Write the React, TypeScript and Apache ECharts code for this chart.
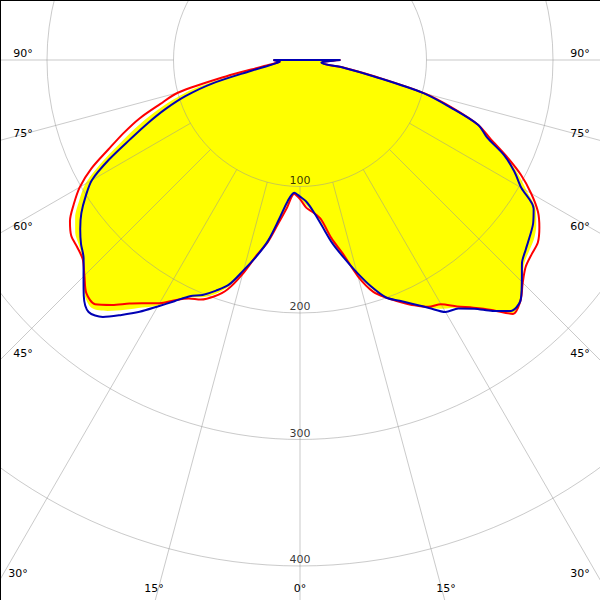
import React, { useEffect, useRef } from "react";
import * as echarts from "echarts";

// Gamma angles (degrees from nadir; negative = left half)
const ANGLES = [
  -90, -87.5, -85, -82.5, -80, -77.5, -75, -72.5, -70, -67.5, -65, -62.5, -60, -57.5, -55, -52.5,
  -50, -47.5, -45, -42.5, -40, -37.5, -35, -32.5, -30, -27.5, -25, -22.5, -20, -17.5, -15, -12.5,
  -10, -7.5, -5, -2.5, 0, 2.5, 5, 7.5, 10, 12.5, 15, 17.5, 20, 22.5, 25, 27.5,
  30, 32.5, 35, 37.5, 40, 42.5, 45, 47.5, 50, 52.5, 55, 57.5, 60, 62.5, 65, 67.5,
  70, 72.5, 75, 77.5, 80, 82.5, 85, 87.5, 90,
];

// Intensity (cd/klm) – red plane
const RED = [
  21, 18, 16, 20, 30, 60, 100, 116, 135, 151, 167, 186, 201, 212, 222, 228,
  230, 233, 241, 250, 252, 244, 235, 228, 222, 214, 208, 205, 199, 190, 175, 158,
  146, 130, 117, 106, 110, 117, 121, 127, 143, 157, 177, 192, 200, 207, 214, 220,
  223, 231, 239, 249, 262, 258, 249, 242, 239, 237, 231, 223, 211, 197, 180, 163,
  150, 127, 102, 62, 36, 18, 18, 22, 32,
];

// Intensity – blue plane
const BLUE = [
  21, 18, 16, 19, 25, 40, 72, 95, 113, 130, 148, 170, 190, 201, 211, 219,
  226, 232, 242, 253, 260, 256, 246, 236, 225, 215, 206, 201, 194, 186, 172, 159,
  145, 127, 112, 105, 108, 112, 120, 132, 147, 160, 174, 188, 200, 206, 213, 221,
  230, 233, 240, 250, 259, 258, 248, 238, 233, 229, 225, 219, 202, 191, 178, 160,
  150, 125, 101, 60, 35, 17, 18, 22, 32,
];

// Intensity – yellow filled curve
const YELLOW = [
  21, 18, 16, 20, 28, 50, 86, 106, 124, 141, 158, 178, 196, 207, 217, 224,
  228, 233, 242, 252, 256, 250, 241, 232, 224, 215, 207, 203, 197, 188, 174, 159,
  146, 129, 115, 106, 109, 115, 121, 130, 145, 159, 175, 190, 200, 207, 214, 221,
  227, 232, 240, 250, 261, 258, 249, 240, 236, 233, 228, 221, 207, 194, 179, 162,
  150, 126, 102, 61, 36, 18, 18, 22, 32,
];

const RADIAL_ANGLES = [-90, -75, -60, -45, -30, -15, 0, 15, 30, 45, 60, 75, 90];
const RING_LABELS = [100, 200, 300, 400];
const R_MAX = 500;

const ANGLE_LABELS: { text: string; x: number; y: number }[] = [
  { text: "90°", x: 23, y: 53 },
  { text: "90°", x: 580, y: 53 },
  { text: "75°", x: 23, y: 133 },
  { text: "75°", x: 580, y: 133 },
  { text: "60°", x: 23, y: 226 },
  { text: "60°", x: 580, y: 226 },
  { text: "45°", x: 23, y: 353 },
  { text: "45°", x: 580, y: 353 },
  { text: "30°", x: 18, y: 573 },
  { text: "30°", x: 580, y: 573 },
  { text: "15°", x: 154, y: 588 },
  { text: "0°", x: 300, y: 588 },
  { text: "15°", x: 446, y: 588 },
];

const FONT = "DejaVu Sans";
const SMOOTH = 0.3;

function curve(values: number[]) {
  const pts: number[][] = [[0, -90]];
  ANGLES.forEach((a, i) => pts.push([values[i], a]));
  pts.push([0, 90]);
  return pts;
}

export default function App() {
  const ref = useRef<HTMLDivElement>(null);
  useEffect(() => {
    if (!ref.current) return;
    const chart = echarts.init(ref.current, undefined, { renderer: "svg" });
    const gridSeries = RADIAL_ANGLES.map((a) => ({
      type: "line",
      coordinateSystem: "polar",
      data: [
        [100, a],
        [R_MAX, a],
      ],
      symbol: "none",
      silent: true,
      z: 3,
      lineStyle: { color: "rgba(150,150,150,0.5)", width: 1 },
    }));
    chart.setOption({
      animation: false,
      backgroundColor: "#fff",
      polar: { center: [300, 60], radius: 632.5 },
      angleAxis: {
        type: "value",
        min: -180,
        max: 180,
        startAngle: 90,
        clockwise: false,
        axisLine: { show: false },
        axisTick: { show: false },
        axisLabel: { show: false },
        splitLine: { show: false },
      },
      radiusAxis: {
        type: "value",
        min: 0,
        max: R_MAX,
        interval: 100,
        z: 3,
        axisLine: { show: false },
        axisTick: { show: false },
        axisLabel: { show: false },
        splitLine: { show: true, lineStyle: { color: "rgba(150,150,150,0.5)", width: 1 } },
      },
      graphic: [
        {
          type: "line",
          shape: { x1: 0.5, y1: 0, x2: 0.5, y2: 600 },
          style: { stroke: "#000", lineWidth: 1 },
          z: 100,
        },
        {
          type: "line",
          shape: { x1: 0, y1: 0.5, x2: 600, y2: 0.5 },
          style: { stroke: "#000", lineWidth: 1 },
          z: 100,
        },
        ...ANGLE_LABELS.map((l) => ({
          type: "text",
          x: l.x,
          y: l.y,
          z: 100,
          style: {
            text: l.text,
            fill: "#000",
            font: `11px '${FONT}'`,
            textAlign: "center",
            textVerticalAlign: "middle",
          },
        })),
      ],
      series: [
        {
          type: "line",
          coordinateSystem: "polar",
          data: curve(YELLOW),
          symbol: "none",
          smooth: SMOOTH,
          z: 1,
          lineStyle: { width: 0, color: "#ffff00" },
          areaStyle: { color: "#ffff00", opacity: 1 },
        },
        ...gridSeries,
        {
          type: "scatter",
          coordinateSystem: "polar",
          data: RING_LABELS.map((r) => [r, 0]),
          symbolSize: 0,
          z: 4,
          label: {
            show: true,
            position: "top",
            distance: 1,
            formatter: (p: any) => String(p.value[0]),
            color: "#000",
            fontFamily: FONT,
            fontSize: 11,
          },
        },
        {
          type: "line",
          coordinateSystem: "polar",
          data: curve(RED),
          symbol: "none",
          smooth: SMOOTH,
          z: 5,
          lineStyle: { color: "#ff0000", width: 2 },
        },
        {
          type: "line",
          coordinateSystem: "polar",
          data: curve(BLUE),
          symbol: "none",
          smooth: SMOOTH,
          z: 6,
          lineStyle: { color: "#0000b4", width: 2 },
        },
      ],
    });
    return () => chart.dispose();
  }, []);
  return (
    <div
      ref={ref}
      style={{ position: "absolute", left: 0, top: 0, width: 600, height: 600 }}
    />
  );
}
